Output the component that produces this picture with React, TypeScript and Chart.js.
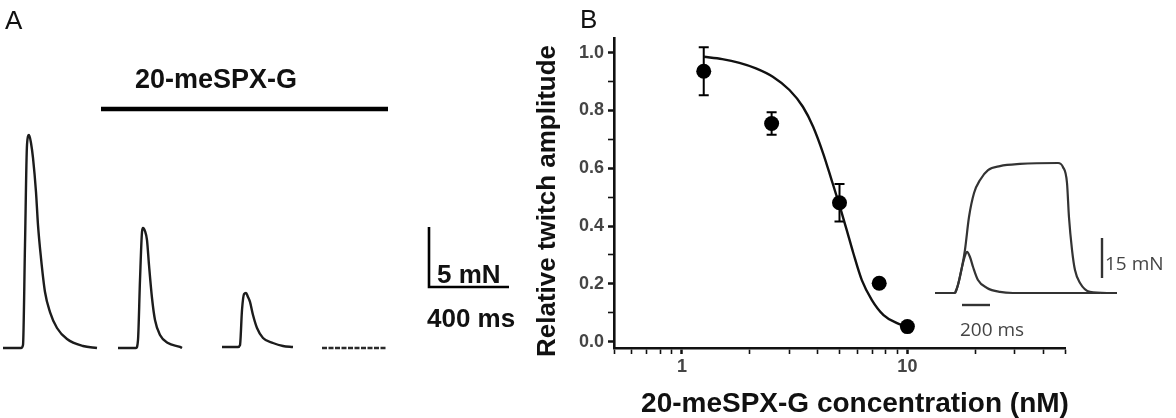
import React, { useEffect, useRef } from 'react';
import { Chart, registerables } from 'chart.js';

Chart.register(...registerables);

const SANS = '"Liberation Sans", Arial, sans-serif';
const INSET_FONT = '"Open Sans", "Noto Sans", sans-serif';

// ---------- Panel A: twitch recordings (time in ms, force in mN) ----------
const trace1Time = [15, 105, 115, 125, 135, 145, 155, 165, 180, 190, 205, 225, 250, 285, 335, 415, 485];
const trace1Force = [0.08, 0.08, 0.33, 8.67, 17.0, 17.83, 17.17, 15.92, 13.08, 10.33, 7.58, 4.75, 3.08, 1.75, 0.83, 0.25, 0.08];
const trace2Time = [590, 680, 690, 700, 710, 715, 725, 735, 745, 760, 775, 800, 840, 900, 910];
const trace2Force = [0.08, 0.08, 0.75, 5.75, 9.75, 10.08, 9.83, 9.08, 7.0, 4.25, 2.42, 1.17, 0.5, 0.17, 0.08];
const trace3Time = [1110, 1190, 1200, 1210, 1220, 1230, 1240, 1250, 1265, 1285, 1315, 1365, 1415, 1465];
const trace3Force = [0.17, 0.17, 0.33, 3.25, 4.58, 4.67, 4.33, 3.92, 2.83, 1.75, 0.92, 0.5, 0.25, 0.17];
const trace4Time = [1610, 1935];
const trace4Force = [0.08, 0.08];
const toxinBarTime = [505, 1940];
const toxinBarLevel = [20, 20];
const scaleATime = [2145, 2145, 2545];
const scaleAForce = [10.17, 5.17, 5.17];

// ---------- Panel B: concentration-response ----------
const concentrations = [1.25, 2.5, 5, 7.5, 10];
const amplitudeMean = [0.936, 0.755, 0.481, 0.202, 0.052];
const amplitudeErr = [0.083, 0.039, 0.065, 0, 0];
const fitConc = [1.25, 1.51, 1.8, 2.13, 2.53, 3.0, 3.44, 3.82, 4.23, 4.61, 5.02, 5.38, 5.76, 6.28, 6.96, 7.84, 9.0, 10];
const fitAmp = [0.986, 0.978, 0.965, 0.946, 0.917, 0.871, 0.813, 0.744, 0.652, 0.56, 0.467, 0.387, 0.306, 0.213, 0.144, 0.092, 0.064, 0.05];
const xTickValues = [0.5, 0.6, 0.7, 0.8, 0.9, 1, 2, 3, 4, 5, 6, 7, 8, 9, 10, 20, 30, 40, 50];
const xTickLabels = ['1', '10'];
const yTickValues = [0, 0.1, 0.2, 0.3, 0.4, 0.5, 0.6, 0.7, 0.8, 0.9, 1.0];

// ---------- Inset: twitch vs tetanus ----------
const tetanusTime = [107, 250, 271, 300, 321, 350, 386, 429, 486, 571, 714, 986, 1021, 1050, 1064, 1086, 1107, 1143, 1214, 1336, 1407];
const tetanusForce = [0, 0, 3.0, 9.75, 16.1, 28.5, 37.5, 42.4, 46.1, 47.6, 48.4, 48.75, 47.25, 41.25, 28.5, 16.1, 8.6, 3.75, 0.4, 0, 0];
const twitchTime = [250, 271, 300, 321, 336, 357, 379, 414, 479, 571, 664, 1286];
const twitchForce = [0, 3, 9.75, 13.9, 15.4, 13.5, 9.75, 4.9, 1.9, 0.4, 0, 0];
const insetForceBarTime = [1300, 1300];
const insetForceBar = [5.625, 20.625];
const insetTimeBarTime = [300, 500];
const insetTimeBar = [-4.5, -4.5];

const toXY = (xs: number[], ys: number[]) => xs.map((x, i) => ({ x, y: ys[i] }));

const line = (xs: number[], ys: number[], color: string, width: number, extra: any = {}) => ({
  data: toXY(xs, ys),
  borderColor: color,
  borderWidth: width,
  pointRadius: 0,
  fill: false,
  clip: false,
  ...extra,
});

export default function App() {
  const aRef = useRef<HTMLCanvasElement>(null);
  const bRef = useRef<HTMLCanvasElement>(null);
  const cRef = useRef<HTMLCanvasElement>(null);

  useEffect(() => {
    const charts: Chart[] = [];

    const panelAText = {
      id: 'panelAText',
      afterDraw(chart: any) {
        const ctx = chart.ctx;
        ctx.save();
        ctx.fillStyle = '#111';
        ctx.textBaseline = 'alphabetic';
        ctx.textAlign = 'left';
        ctx.font = `26px ${SANS}`;
        ctx.fillText('A', 5, 29);
        ctx.font = `bold 27px ${SANS}`;
        ctx.fillText('20-meSPX-G', 135, 88);
        ctx.font = `bold 26px ${SANS}`;
        ctx.fillText('5 mN', 437, 283);
        ctx.fillText('400 ms', 427, 327);
        ctx.restore();
      },
    };

    charts.push(
      new Chart(aRef.current!, {
        type: 'line',
        data: {
          datasets: [
            line(trace1Time, trace1Force, '#1c1c1c', 2.4, { cubicInterpolationMode: 'monotone' }),
            line(trace2Time, trace2Force, '#1c1c1c', 2.4, { cubicInterpolationMode: 'monotone' }),
            line(trace3Time, trace3Force, '#1c1c1c', 2.4, { cubicInterpolationMode: 'monotone' }),
            line(trace4Time, trace4Force, '#2a2a2a', 2.4, { borderDash: [5, 1.5] }),
            line(toxinBarTime, toxinBarLevel, '#000', 4.5),
            line(scaleATime, scaleAForce, '#000', 2.6),
          ] as any,
        },
        options: {
          responsive: false,
          animation: false,
          events: [],
          layout: { padding: 0 },
          scales: {
            x: { type: 'linear', display: false, min: 0, max: 2600 },
            y: { type: 'linear', display: false, min: -5.75, max: 29.0833 },
          },
          plugins: { legend: { display: false }, tooltip: { enabled: false } },
        },
        plugins: [panelAText],
      } as any)
    );

    const panelBDecor = {
      id: 'panelBDecor',
      beforeDatasetsDraw(chart: any) {
        const ctx = chart.ctx;
        const xs = chart.scales.x;
        const ys = chart.scales.y;
        ctx.save();
        ctx.strokeStyle = '#000';
        ctx.lineWidth = 2;
        concentrations.forEach((c, i) => {
          const e = amplitudeErr[i];
          if (!e) return;
          const px = xs.getPixelForValue(c);
          const top = ys.getPixelForValue(amplitudeMean[i] + e);
          const bot = ys.getPixelForValue(amplitudeMean[i] - e);
          ctx.beginPath();
          ctx.moveTo(px, top);
          ctx.lineTo(px, bot);
          ctx.moveTo(px - 5, top);
          ctx.lineTo(px + 5, top);
          ctx.moveTo(px - 5, bot);
          ctx.lineTo(px + 5, bot);
          ctx.stroke();
        });
        ctx.restore();
      },
      afterDraw(chart: any) {
        const ctx = chart.ctx;
        ctx.save();
        ctx.fillStyle = '#111';
        ctx.textAlign = 'left';
        ctx.textBaseline = 'alphabetic';
        ctx.font = `26px ${SANS}`;
        ctx.fillText('B', 60, 28);
        ctx.font = `bold 28px ${SANS}`;
        ctx.textAlign = 'center';
        ctx.fillText('20-meSPX-G concentration (nM)', 335, 412);
        ctx.translate(28, 201);
        ctx.rotate(-Math.PI / 2);
        ctx.textBaseline = 'middle';
        ctx.font = `bold 26px ${SANS}`;
        ctx.fillText('Relative twitch amplitude', 0, 0);
        ctx.restore();
      },
    };

    const isMajorY = (v: number) => Math.round(v * 10) % 2 === 0;
    const isMajorX = (v: number) => xTickLabels.includes(String(v));

    charts.push(
      new Chart(bRef.current!, {
        type: 'scatter',
        data: {
          datasets: [
            {
              data: toXY(concentrations, amplitudeMean),
              pointRadius: 7.5,
              pointBackgroundColor: '#000',
              pointBorderColor: '#000',
              pointBorderWidth: 0,
              showLine: false,
            },
            {
              data: toXY(fitConc, fitAmp),
              showLine: true,
              borderColor: '#111',
              borderWidth: 2.4,
              pointRadius: 0,
              cubicInterpolationMode: 'monotone',
              fill: false,
            },
          ] as any,
        },
        options: {
          responsive: false,
          animation: false,
          events: [],
          layout: { padding: { left: 0, top: 38, right: 111, bottom: 0 } },
          scales: {
            x: {
              type: 'logarithmic',
              min: 0.5,
              max: 50,
              afterBuildTicks: (s: any) => {
                s.ticks = xTickValues.map((v) => ({ value: v, major: isMajorX(v) }));
              },
              afterFit: (s: any) => {
                s.height = 70;
              },
              ticks: {
                autoSkip: false,
                maxRotation: 0,
                minRotation: 0,
                padding: 2,
                color: '#444',
                font: { family: SANS, size: 18, weight: 'bold' },
                callback: (v: any) => (isMajorX(Number(v)) ? String(v) : ''),
              },
              grid: {
                display: true,
                drawOnChartArea: false,
                drawTicks: true,
                tickLength: 6,
                tickColor: '#111',
                tickWidth: (ctx: any) => (ctx.tick && isMajorX(ctx.tick.value) ? 2.5 : 1.6),
              },
              border: { display: true, color: '#111', width: 2.6 },
            },
            y: {
              type: 'linear',
              min: -0.022,
              max: 1.051,
              afterBuildTicks: (s: any) => {
                s.ticks = yTickValues.map((v) => ({ value: v }));
              },
              afterFit: (s: any) => {
                s.width = 94;
              },
              ticks: {
                autoSkip: false,
                padding: 4,
                color: '#444',
                font: { family: SANS, size: 18, weight: 'bold' },
                callback: (v: any) => (isMajorY(Number(v)) ? Number(v).toFixed(1) : ''),
              },
              grid: {
                display: true,
                drawOnChartArea: false,
                drawTicks: true,
                tickLength: 6,
                tickColor: '#111',
                tickWidth: (ctx: any) => (ctx.tick && isMajorY(ctx.tick.value) ? 2.5 : 1.6),
              },
              border: { display: true, color: '#111', width: 2.6 },
            },
          },
          plugins: { legend: { display: false }, tooltip: { enabled: false } },
        },
        plugins: [panelBDecor],
      } as any)
    );

    const insetText = {
      id: 'insetText',
      afterDraw(chart: any) {
        const ctx = chart.ctx;
        ctx.save();
        ctx.fillStyle = '#444';
        ctx.textAlign = 'left';
        ctx.textBaseline = 'alphabetic';
        ctx.font = `19px ${INSET_FONT}`;
        ctx.fillText('15 mN', 185, 130);
        ctx.fillText('200 ms', 40, 196);
        ctx.restore();
      },
    };

    charts.push(
      new Chart(cRef.current!, {
        type: 'line',
        data: {
          datasets: [
            line(tetanusTime, tetanusForce, '#333', 2.2, { cubicInterpolationMode: 'monotone' }),
            line(twitchTime, twitchForce, '#333', 2.2, { cubicInterpolationMode: 'monotone' }),
            line(insetForceBarTime, insetForceBar, '#333', 2.4),
            line(insetTimeBarTime, insetTimeBar, '#333', 2.4),
          ] as any,
        },
        options: {
          responsive: false,
          animation: false,
          events: [],
          layout: { padding: 0 },
          scales: {
            x: { type: 'linear', display: false, min: 0, max: 1828.57 },
            y: { type: 'linear', display: false, min: -25.125, max: 57.375 },
          },
          plugins: { legend: { display: false }, tooltip: { enabled: false } },
        },
        plugins: [insetText],
      } as any)
    );

    return () => charts.forEach((c) => c.destroy());
  }, []);

  return (
    <div style={{ position: 'absolute', left: 0, top: 0, width: 1176, height: 418, background: '#fff', overflow: 'hidden' }}>
      <canvas ref={aRef} width={520} height={418} style={{ position: 'absolute', left: 0, top: 0 }} />
      <canvas ref={bRef} width={656} height={418} style={{ position: 'absolute', left: 520, top: 0 }} />
      <canvas ref={cRef} width={256} height={220} style={{ position: 'absolute', left: 920, top: 140 }} />
    </div>
  );
}
